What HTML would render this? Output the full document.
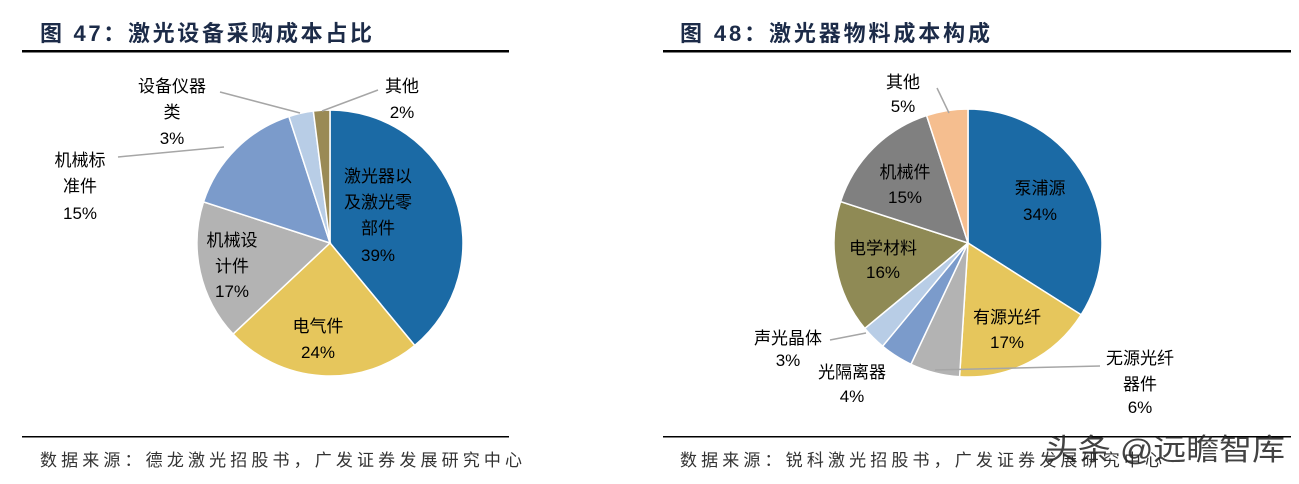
<!DOCTYPE html>
<html><head><meta charset="utf-8">
<style>
body{margin:0;background:#fff;width:1299px;height:479px;overflow:hidden;font-family:"Liberation Sans","Noto Sans CJK SC",sans-serif;}
</style></head><body>
<svg id="s" width="1299" height="479" xmlns="http://www.w3.org/2000/svg" font-family="Liberation Sans, Noto Sans CJK SC, sans-serif">
<text x="40" y="41" font-size="22" font-weight="bold" fill="#1c2b48" textLength="332" lengthAdjust="spacing">图  47：激光设备采购成本占比</text>
<rect x="22" y="50" width="487" height="2.5" fill="#000"/>
<text x="680" y="41" font-size="22" font-weight="bold" fill="#1c2b48" textLength="310" lengthAdjust="spacing">图  48：激光器物料成本构成</text>
<rect x="663" y="50" width="628" height="2.5" fill="#000"/>
<rect x="22" y="436" width="487" height="1.5" fill="#000"/>
<rect x="663" y="436" width="628" height="1.5" fill="#000"/>
<text x="40" y="466" font-size="17" fill="#333" textLength="482" lengthAdjust="spacing">数据来源：德龙激光招股书，广发证券发展研究中心</text>
<text x="680" y="466" font-size="17" fill="#333" textLength="482" lengthAdjust="spacing">数据来源：锐科激光招股书，广发证券发展研究中心</text>
<text x="1045" y="460" font-size="30" fill="#222" opacity="0.85" textLength="240" lengthAdjust="spacingAndGlyphs">头条 @远瞻智库</text>
<g id="p1"></g><g id="p2"></g>
<g stroke="#a6a6a6" stroke-width="1.5" fill="none">
<line x1="220" y1="92" x2="300" y2="113"/>
<line x1="378" y1="90" x2="322" y2="111"/>
<line x1="118" y1="157" x2="224" y2="147"/>
<line x1="937" y1="88" x2="949" y2="113"/>
<line x1="1100" y1="366" x2="935" y2="370"/>
<line x1="830" y1="340" x2="866" y2="333"/>
</g>
<g font-size="17" fill="#000" text-anchor="middle">
<text x="378" y="182">激光器以</text><text x="378" y="208">及激光零</text><text x="378" y="234">部件</text><text x="378" y="261">39%</text>
<text x="318" y="332">电气件</text><text x="318" y="358">24%</text>
<text x="232" y="246">机械设</text><text x="232" y="272">计件</text><text x="232" y="297">17%</text>
<text x="80" y="166">机械标</text><text x="80" y="192">准件</text><text x="80" y="219">15%</text>
<text x="172" y="92">设备仪器</text><text x="172" y="118">类</text><text x="172" y="144">3%</text>
<text x="402" y="92">其他</text><text x="402" y="118">2%</text>
<text x="1040" y="194">泵浦源</text><text x="1040" y="220">34%</text>
<text x="1007" y="323">有源光纤</text><text x="1007" y="348">17%</text>
<text x="1140" y="364">无源光纤</text><text x="1140" y="390">器件</text><text x="1140" y="413">6%</text>
<text x="852" y="378">光隔离器</text><text x="852" y="402">4%</text>
<text x="788" y="344">声光晶体</text><text x="788" y="366">3%</text>
<text x="883" y="254">电学材料</text><text x="883" y="278">16%</text>
<text x="905" y="178">机械件</text><text x="905" y="203">15%</text>
<text x="903" y="88">其他</text><text x="903" y="112">5%</text>
</g>
</svg>
<script>
function pie(id,cx,cy,r,data){
 var g=document.getElementById(id),a=0,h='';
 data.forEach(function(d){
  var a2=a+d[0]/100*2*Math.PI;
  var x1=cx+r*Math.sin(a),y1=cy-r*Math.cos(a),x2=cx+r*Math.sin(a2),y2=cy-r*Math.cos(a2);
  h+='<path d="M'+cx+' '+cy+'L'+x1+' '+y1+'A'+r+' '+r+' 0 '+((a2-a)>Math.PI?1:0)+' 1 '+x2+' '+y2+'Z" fill="'+d[1]+'" stroke="#fff" stroke-width="1.5"/>';
  a=a2;});
 g.innerHTML=h;
}
pie('p1',330,243,133,[[39,'#1b6aa5'],[24,'#e6c65c'],[17,'#b3b3b3'],[15,'#7b9bcb'],[3,'#b8cde6'],[2,'#9a8a55']]);
pie('p2',968,243,134,[[34,'#1b6aa5'],[17,'#e6c65c'],[6,'#b3b3b3'],[4,'#7b9bcb'],[3,'#b8cde6'],[16,'#8f8a55'],[15,'#808080'],[5,'#f5be8f']]);
</script>
</body></html>
